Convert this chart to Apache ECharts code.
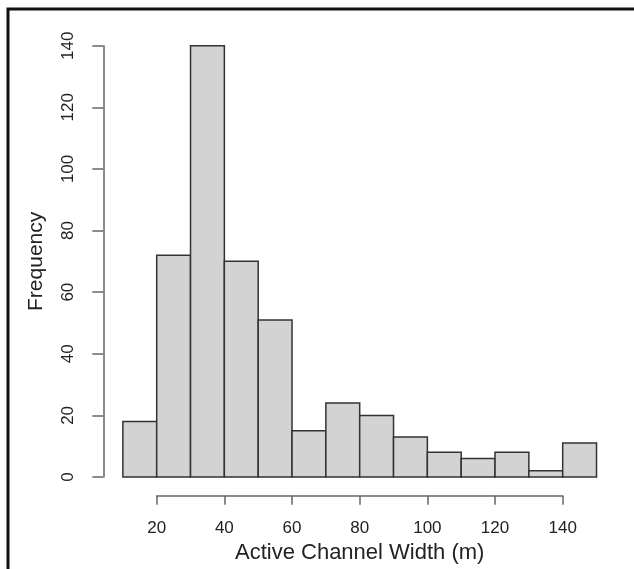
<!DOCTYPE html>
<html>
<head>
<meta charset="utf-8">
<title>Active Channel Width histogram</title>
<script src="https://cdn.jsdelivr.net/npm/echarts@6/dist/echarts.min.js"></script>
<style>
  html, body { margin: 0; padding: 0; background: #fff; }
  #chart { width: 634px; height: 569px; }
</style>
</head>
<body>
<div id="chart"></div>
<script>
// histogram bins (m) and counts
const binStart = [10, 20, 30, 40, 50, 60, 70, 80, 90, 100, 110, 120, 130, 140]
const binEnd = [20, 30, 40, 50, 60, 70, 80, 90, 100, 110, 120, 130, 140, 150]
const counts = [18, 72, 140, 70, 51, 15, 24, 20, 13, 8, 6, 8, 2, 11]

const xTicks = [20, 40, 60, 80, 100, 120, 140]
const yTicks = [0, 20, 40, 60, 80, 100, 120, 140]

const fontFamily = '"Liberation Sans", Arial, Helvetica, sans-serif'
const axisColor = '#666'
const textColor = '#222'

const chart = echarts.init(document.getElementById('chart'))

const histData = counts.map((c, i) => [binStart[i], binEnd[i], c])

const option = {
  backgroundColor: '#fff',
  animation: false,
  textStyle: { fontFamily },
  grid: {
    left: 156.7,
    right: 71.3,
    top: 45.7,
    bottom: 92
  },
  xAxis: {
    type: 'value',
    min: xTicks[0],
    max: xTicks[xTicks.length - 1],
    interval: 20,
    offset: 18.7,
    name: 'Active Channel Width (m)',
    nameLocation: 'middle',
    nameGap: 43,
    nameTextStyle: { fontSize: 22, color: textColor, fontFamily },
    axisLine: { show: true, onZero: false, lineStyle: { color: axisColor, width: 1.5 } },
    axisTick: { show: true, length: 9, lineStyle: { color: axisColor, width: 1.5 } },
    axisLabel: { fontSize: 17, color: textColor, margin: 24, fontFamily },
    splitLine: { show: false }
  },
  yAxis: {
    type: 'value',
    min: yTicks[0],
    max: yTicks[yTicks.length - 1],
    interval: 20,
    offset: 53.4,
    name: 'Frequency',
    nameLocation: 'middle',
    nameGap: 57,
    nameTextStyle: { fontSize: 21, color: textColor, fontFamily },
    axisLine: { show: true, onZero: false, lineStyle: { color: axisColor, width: 1.5 } },
    axisTick: { show: true, length: 11, lineStyle: { color: axisColor, width: 1.5 } },
    axisLabel: { fontSize: 17, color: textColor, margin: 26, rotate: 90, fontFamily },
    splitLine: { show: false }
  },
  graphic: [
    {
      type: 'polyline',
      shape: { points: [[8, 569], [8, 9], [634, 9]] },
      style: { stroke: '#111', lineWidth: 3, fill: null },
      silent: true
    }
  ],
  series: [
    {
      type: 'custom',
      clip: false,
      data: histData,
      encode: { x: [0, 1], y: 2 },
      renderItem: (params, api) => {
        const p0 = api.coord([api.value(0), api.value(2)])
        const p1 = api.coord([api.value(1), 0])
        return {
          type: 'rect',
          shape: {
            x: p0[0],
            y: p0[1],
            width: p1[0] - p0[0],
            height: p1[1] - p0[1]
          },
          style: {
            fill: '#d3d3d3',
            stroke: '#333',
            lineWidth: 1.5
          }
        }
      }
    }
  ]
}

chart.setOption(option)

window.addEventListener('resize', () => {
  chart.resize()
})
</script>
</body>
</html>
